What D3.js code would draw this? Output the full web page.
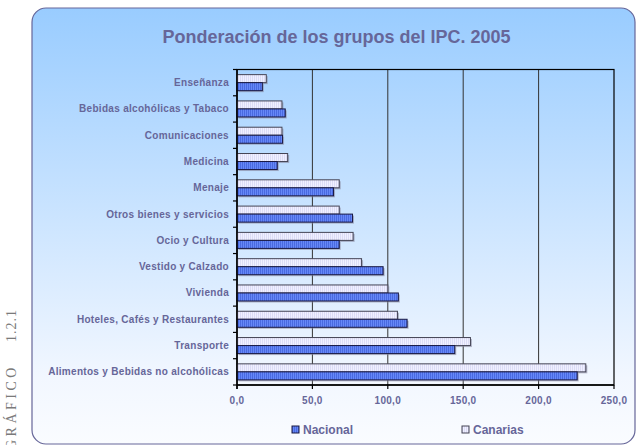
<!DOCTYPE html>
<html>
<head>
  <meta charset='utf-8'>
  <style>
  body { margin: 0; background: #fff; }
  .lbl { font-family: 'Liberation Sans', Arial, sans-serif; font-weight: bold; fill: #666699; }
  .cap { font-family: 'Liberation Serif', 'DejaVu Serif', serif; font-size: 14px; fill: #7a7a7a; }
  </style>
</head>
<body>
<script src='https://cdnjs.cloudflare.com/ajax/libs/d3/7.8.5/d3.min.js'></script>
<script>

// categories from top to bottom
var categories = [
  'Enseñanza',
  'Bebidas alcohólicas y Tabaco',
  'Comunicaciones',
  'Medicina',
  'Menaje',
  'Otros bienes y servicios',
  'Ocio y Cultura',
  'Vestido y Calzado',
  'Vivienda',
  'Hoteles, Cafés y Restaurantes',
  'Transporte',
  'Alimentos y Bebidas no alcohólicas'
];
var nacional = [16.8, 32.0, 30.2, 26.7, 64.0, 76.6, 67.8, 96.9, 107.0, 112.8, 144.4, 225.6];
var canarias = [19.4, 29.8, 29.8, 33.6, 67.8, 67.8, 77.0, 82.6, 100.0, 106.4, 154.8, 231.3];
var xTicks = [0, 50, 100, 150, 200, 250];
var seriesNames = ['Canarias', 'Nacional'];

var W = 636, H = 445;
var svg = d3.select('body').append('svg').attr('width', W).attr('height', H);
var defs = svg.append('defs');

var grad = defs.append('linearGradient').attr('id', 'bg')
    .attr('x1', 0).attr('y1', 0).attr('x2', 0).attr('y2', 1);
grad.append('stop').attr('offset', '0%').attr('stop-color', '#99ccff');
grad.append('stop').attr('offset', '85%').attr('stop-color', '#f2f7ff');
grad.append('stop').attr('offset', '100%').attr('stop-color', '#fafcff');

function stripes(id, base, stripe) {
  var p = defs.append('pattern').attr('id', id)
      .attr('patternUnits', 'userSpaceOnUse').attr('width', 2).attr('height', 4);
  p.append('rect').attr('width', 2).attr('height', 4).attr('fill', base);
  p.append('rect').attr('width', 1).attr('height', 4).attr('fill', stripe);
}
stripes('patC', '#f0f0ff', '#dcdcf6');
stripes('patN', '#6688f8', '#4a6ae0');

var fills = {Canarias: 'url(#patC)', Nacional: 'url(#patN)'};
var strokes = {Canarias: '#444455', Nacional: '#1a1a44'};

// chart frame
svg.append('rect')
    .attr('x', 32).attr('y', 8).attr('width', 603).attr('height', 436)
    .attr('rx', 14).attr('ry', 14)
    .attr('fill', 'url(#bg)').attr('stroke', '#666699').attr('stroke-width', 1.2);

svg.append('text')
    .attr('class', 'lbl')
    .attr('x', 336.5).attr('y', 43)
    .attr('text-anchor', 'middle')
    .style('font-size', '18px')
    .text('Ponderación de los grupos del IPC. 2005');

var pLeft = 237, pRight = 614, pTop = 69.5, pBottom = 385;

var x = d3.scaleLinear().domain([0, 250]).range([pLeft, pRight]);
var y = d3.scaleBand().domain(categories).range([pTop, pBottom]);
var yi = d3.scaleBand().domain(seriesNames).range([0, y.bandwidth()]).paddingOuter(0.64);

// gridlines
svg.append('g').selectAll('line')
    .data(xTicks.slice(1, -1))
  .enter().append('line')
    .attr('x1', function(d) { return x(d); }).attr('x2', function(d) { return x(d); })
    .attr('y1', pTop).attr('y2', pBottom)
    .attr('stroke', '#333').attr('stroke-width', 1);

svg.append('rect')
    .attr('x', pLeft).attr('y', pTop).attr('width', pRight - pLeft).attr('height', pBottom - pTop)
    .attr('fill', 'none').attr('stroke', '#000').attr('stroke-width', 1.2);

var rows = categories.map(function(c, i) {
  return {cat: c, Canarias: canarias[i], Nacional: nacional[i]};
});

var g = svg.append('g');
seriesNames.forEach(function(s) {
  g.selectAll('.sh' + s).data(rows).enter().append('rect')
      .attr('x', x(0) + 1.5)
      .attr('y', function(d) { return y(d.cat) + yi(s) + 1.5; })
      .attr('width', function(d) { return x(d[s]) - x(0); })
      .attr('height', yi.bandwidth())
      .attr('fill', '#8888a0').attr('opacity', 0.6);
  g.selectAll('.b' + s).data(rows).enter().append('rect')
      .attr('x', x(0))
      .attr('y', function(d) { return y(d.cat) + yi(s); })
      .attr('width', function(d) { return x(d[s]) - x(0); })
      .attr('height', yi.bandwidth())
      .attr('fill', fills[s]).attr('stroke', strokes[s]).attr('stroke-width', 1);
});

// y axis
var yAxis = svg.append('g');
yAxis.append('line').attr('x1', pLeft).attr('x2', pLeft).attr('y1', pTop).attr('y2', pBottom + 4)
    .attr('stroke', '#000').attr('stroke-width', 1.5);
yAxis.selectAll('.tk').data(d3.range(categories.length + 1)).enter().append('line')
    .attr('x1', pLeft - 4).attr('x2', pLeft)
    .attr('y1', function(i) { return pTop + i * y.step(); })
    .attr('y2', function(i) { return pTop + i * y.step(); })
    .attr('stroke', '#000').attr('stroke-width', 1.2);
yAxis.selectAll('text').data(categories).enter().append('text')
    .attr('class', 'lbl')
    .attr('x', pLeft - 8)
    .attr('y', function(d) { return y(d) + y.bandwidth() / 2; })
    .attr('dy', '0.35em')
    .attr('text-anchor', 'end')
    .style('font-size', '10px')
    .style('letter-spacing', '0.3px')
    .text(function(d) { return d; });

// x axis
var xAxis = svg.append('g');
xAxis.append('line').attr('x1', pLeft).attr('x2', pRight).attr('y1', pBottom).attr('y2', pBottom)
    .attr('stroke', '#000').attr('stroke-width', 1.5);
xAxis.selectAll('.tk').data(xTicks).enter().append('line')
    .attr('x1', function(d) { return x(d); }).attr('x2', function(d) { return x(d); })
    .attr('y1', pBottom).attr('y2', pBottom + 4)
    .attr('stroke', '#000').attr('stroke-width', 1.2);
var fmt = function(d) { return d3.format('.1f')(d).replace('.', ','); };
xAxis.selectAll('text').data(xTicks).enter().append('text')
    .attr('class', 'lbl')
    .attr('x', function(d) { return x(d); })
    .attr('y', 404)
    .attr('text-anchor', 'middle')
    .style('font-size', '10px')
    .style('letter-spacing', '0.3px')
    .text(fmt);

// legend
var legend = [{name: 'Nacional', x: 292}, {name: 'Canarias', x: 462}];
legend.forEach(function(l) {
  svg.append('rect').attr('x', l.x).attr('y', 426).attr('width', 7).attr('height', 7)
      .attr('fill', fills[l.name]).attr('stroke', strokes[l.name]).attr('stroke-width', 1);
  svg.append('text').attr('class', 'lbl')
      .attr('x', l.x + 11).attr('y', 434)
      .style('font-size', '12px')
      .text(l.name);
});

// side caption
var cap = svg.append('g').attr('transform', 'translate(16,0) rotate(-90)');
cap.append('text').attr('class', 'cap').attr('x', -450).style('letter-spacing', '3.5px').text('GRÁFICO');
cap.append('text').attr('class', 'cap').attr('x', -342).style('letter-spacing', '1px').text('1.2.1');

</script>
</body>
</html>
